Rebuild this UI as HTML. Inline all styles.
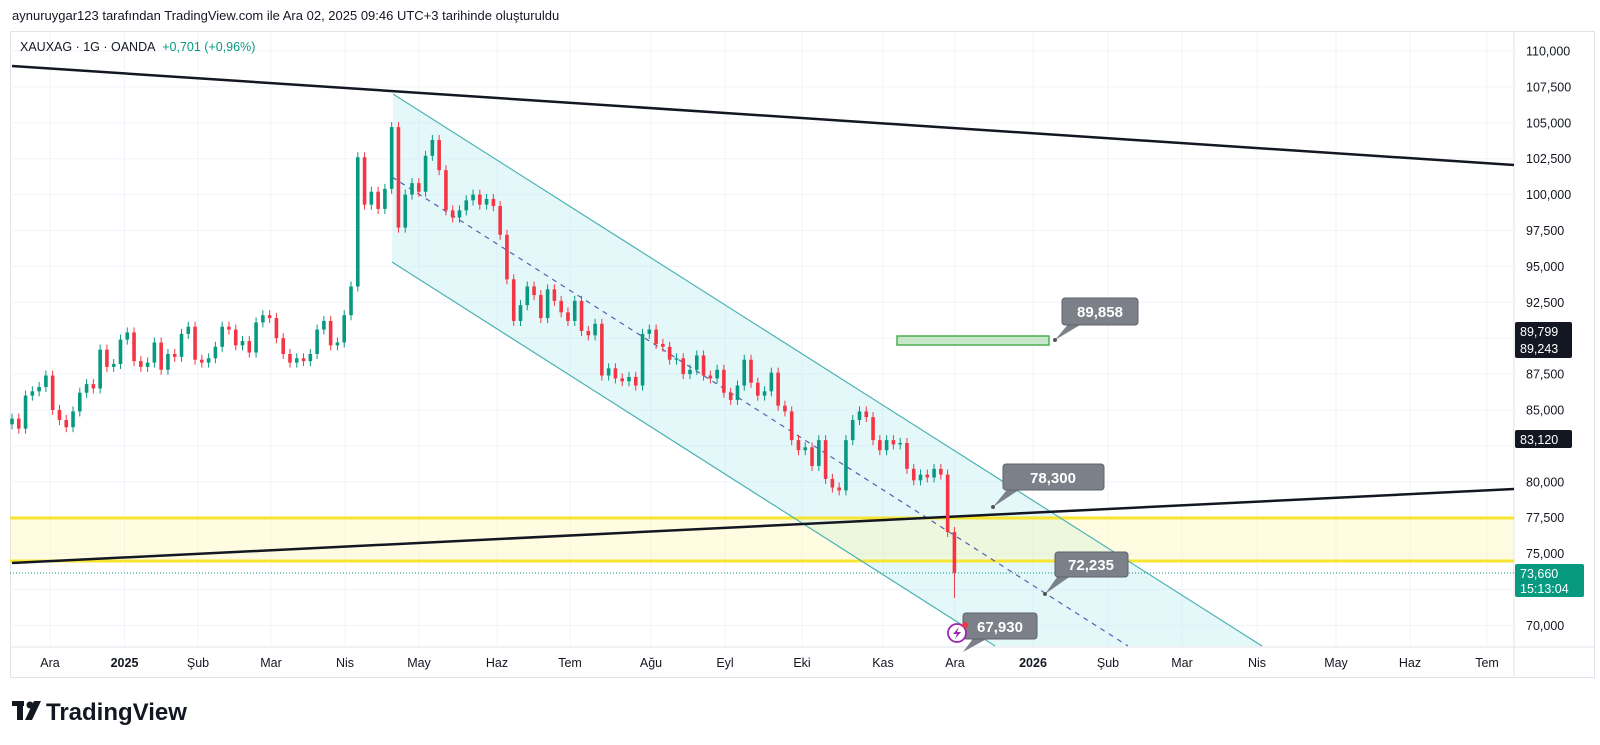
<!DOCTYPE html>
<html><head><meta charset="utf-8"><style>
html,body{margin:0;padding:0;background:#fff;width:1600px;height:745px;overflow:hidden}
svg{display:block;font-family:"Liberation Sans",sans-serif}
</style></head><body>
<svg id="c" width="1600" height="745" viewBox="0 0 1600 745">
<text x="12" y="20" font-size="13" fill="#131722">aynuruygar123 tarafından TradingView.com ile Ara 02, 2025 09:46 UTC+3 tarihinde oluşturuldu</text>
<rect x="10.5" y="31.5" width="1584" height="646" fill="none" stroke="#e0e3eb"/>
<line x1="1514" y1="31" x2="1514" y2="677" stroke="#e0e3eb"/>
<line x1="10" y1="647" x2="1594" y2="647" stroke="#e0e3eb"/>
<g id="grid"></g>
<g id="overlays">
<polygon points="393,94 1262,646 995,646 392,262" fill="#b2ebf2" fill-opacity="0.35"/>
<rect x="10" y="518" width="1504" height="43" fill="#fff59d" fill-opacity="0.3"/>
<line x1="10" y1="518" x2="1514" y2="518" stroke="#f7e531" stroke-width="3"/>
<line x1="10" y1="561" x2="1514" y2="561" stroke="#f7e531" stroke-width="3"/>
<line x1="393" y1="94" x2="1262" y2="646" stroke="#4fb3b3" stroke-width="1.2"/>
<line x1="392" y1="262" x2="995" y2="646" stroke="#4fb3b3" stroke-width="1.2"/>
<line x1="392" y1="177" x2="1128" y2="646" stroke="#5560b0" stroke-width="1.2" stroke-dasharray="5,5"/>
<line x1="12" y1="66" x2="1514" y2="165" stroke="#131722" stroke-width="2.5"/>
<line x1="12" y1="563" x2="1514" y2="489" stroke="#131722" stroke-width="2.5"/>
<line x1="10" y1="573" x2="1514" y2="573" stroke="#089981" stroke-dasharray="1,2"/>
<rect x="897" y="336" width="152" height="9" fill="#c8e6c9" stroke="#4caf50" stroke-width="1.5"/>
</g>
<g id="candles"></g>
<g id="callouts">
<g><polygon points="1070,322 1085,322 1055,340" fill="#7b8089"/><rect x="1062" y="298" width="76" height="27" rx="3" fill="#7b8089" stroke="#5d626b"/><circle cx="1055" cy="340" r="2" fill="#555"/><text x="1100" y="317" font-size="15" font-weight="bold" fill="#fff" text-anchor="middle">89,858</text></g>
<g><polygon points="1010,486 1025,486 993,507" fill="#7b8089"/><rect x="1003" y="464" width="101" height="26" rx="3" fill="#7b8089" stroke="#5d626b"/><circle cx="993" cy="507" r="2" fill="#555"/><text x="1053" y="483" font-size="15" font-weight="bold" fill="#fff" text-anchor="middle">78,300</text></g>
<g><polygon points="1060,573 1075,573 1045,594" fill="#7b8089"/><rect x="1055" y="552" width="73" height="25" rx="3" fill="#7b8089" stroke="#5d626b"/><circle cx="1045" cy="594" r="2" fill="#555"/><text x="1091" y="570" font-size="15" font-weight="bold" fill="#fff" text-anchor="middle">72,235</text></g>
<g><polygon points="975,636 992,636 963,652" fill="#7b8089"/><rect x="963" y="613" width="74" height="26" rx="3" fill="#7b8089" stroke="#5d626b"/><text x="1000" y="632" font-size="15" font-weight="bold" fill="#fff" text-anchor="middle">67,930</text></g>
<g><circle cx="957" cy="633" r="9" fill="#fff" stroke="#9c27b0" stroke-width="1.8"/><path d="M959 627 L953 634 L957 634 L955 639 L961 632 L957 632 Z" fill="#9c27b0"/><circle cx="965" cy="625" r="3" fill="#f23645"/></g>
</g>
<g id="yaxis"></g>
<g id="xaxis"></g>
<g>
<rect x="1515" y="322" width="57" height="36" rx="2" fill="#131722"/>
<text x="1520" y="336" font-size="12.5" fill="#fff">89,799</text><text x="1520" y="353" font-size="12.5" fill="#fff">89,243</text>
<rect x="1515" y="430" width="57" height="18" rx="2" fill="#131722"/>
<text x="1520" y="444" font-size="12.5" fill="#fff">83,120</text>
<rect x="1515" y="564" width="69" height="33" rx="2" fill="#089981"/>
<text x="1520" y="578" font-size="12.5" fill="#fff">73,660</text><text x="1520" y="593" font-size="12.5" fill="#fff">15:13:04</text>
</g>
<g>
<text x="20" y="51" font-size="12.5" fill="#131722">XAUXAG · 1G · OANDA <tspan fill="#089981" dx="4">+0,701 (+0,96%)</tspan></text>
</g>
<g>
<rect x="12" y="701" width="12" height="5" fill="#131722"/><rect x="17" y="701" width="6" height="19" fill="#131722"/>
<circle cx="30" cy="705" r="3.5" fill="#131722"/><polygon points="34,701 41,701 32,720 25,720" fill="#131722"/>
<text x="46" y="720" font-size="24" font-weight="bold" fill="#131722">TradingView</text>
</g>
</svg>
<script>
const closes=[84.4,83.7,86.0,86.3,86.6,87.4,85.0,84.3,83.8,84.9,86.2,86.8,86.5,89.2,88.0,88.2,89.9,90.4,88.4,88.0,
88.3,89.7,87.8,88.9,88.7,90.3,90.8,88.5,88.3,88.6,89.4,90.8,90.6,89.5,89.8,89.0,91.1,91.6,91.4,90.0,
88.9,88.3,88.6,88.4,88.9,90.6,91.2,89.5,89.7,91.6,93.6,102.6,99.3,100.2,99.0,100.4,104.7,97.7,100.0,100.8,
100.2,102.7,103.8,101.7,98.9,98.4,98.9,99.6,100.0,99.3,99.7,99.2,97.2,94.1,91.2,92.3,93.6,93.0,91.4,93.4,
92.6,91.8,91.2,92.6,90.5,90.2,91.0,87.4,87.9,87.2,87.0,87.3,86.7,90.3,90.6,89.6,89.4,88.5,88.6,87.5,
87.8,88.8,87.4,87.2,87.8,86.2,85.7,86.7,88.5,86.9,86.0,86.3,87.6,85.3,84.9,82.9,82.2,82.4,81.1,82.9,
80.2,79.6,79.4,82.9,84.3,84.9,84.5,82.9,82.2,82.9,82.6,82.7,80.9,80.1,80.5,80.3,80.9,80.5,76.5,73.66];
const firstOpen=84.0;
const lastLow=71.9;
const priceTicks=[110000,107500,105000,102500,100000,97500,95000,92500,90000,87500,85000,82500,80000,77500,75000,72500,70000];
const monthLabels=["Ara","2025","Şub","Mar","Nis","May","Haz","Tem","Ağu","Eyl","Eki","Kas","Ara","2026","Şub","Mar","Nis","May","Haz","Tem"];
const monthPos=[50,124.5,198,271,345,419,497,570,651,725,802,883,955,1033,1108,1182,1257,1336,1410,1487];
const NS="http://www.w3.org/2000/svg";
function y(p){return 51+(110000-p)*0.014359;}
function x(i){return 12+i*6.78;}
function mk(t,a){const e=document.createElementNS(NS,t);for(const k in a)e.setAttribute(k,a[k]);return e;}
const grid=document.getElementById('grid'),ya=document.getElementById('yaxis'),xa=document.getElementById('xaxis'),cg=document.getElementById('candles');
priceTicks.forEach(p=>{
 const l=mk('line',{x1:10,x2:1514,y1:y(p),y2:y(p),stroke:'#f0f3fa'});
 
 
 grid.appendChild(l);
 if(p===82500) return;
 const t=mk('text',{x:1526,y:y(p)+4.5,'font-size':12.5,fill:'#131722'});
 
 
 t.textContent=p.toLocaleString('en-US');ya.appendChild(t);
});
monthLabels.forEach((m,i)=>{
 const l=mk('line',{x1:monthPos[i],x2:monthPos[i],y1:31,y2:647,stroke:'#f0f3fa'});
 
 
 grid.appendChild(l);
 const bold=/^\d/.test(m);
 const t=mk('text',{x:monthPos[i],y:667,'font-size':12.5,fill:'#131722','text-anchor':'middle','font-weight':bold?'bold':'normal'});
 
 
 t.textContent=m;xa.appendChild(t);
});
closes.forEach((c,i)=>{
 const o=i===0?firstOpen:closes[i-1];
 const hi=Math.max(o,c)+0.35, lo=i===closes.length-1?lastLow:Math.min(o,c)-0.35;
 const col=c>=o?'#089981':'#f23645';
 const cx=x(i);
 const w=mk('line',{x1:cx,x2:cx,y1:y(hi*1000),y2:y(lo*1000),stroke:col,'stroke-width':1});
 
 
 cg.appendChild(w);
 const top=y(Math.max(o,c)*1000),bot=y(Math.min(o,c)*1000);
 const b=mk('rect',{x:cx-1.8,y:top,width:3.6,height:Math.max(1,bot-top),fill:col});
 
 
 cg.appendChild(b);
});
</script>
</body></html>
